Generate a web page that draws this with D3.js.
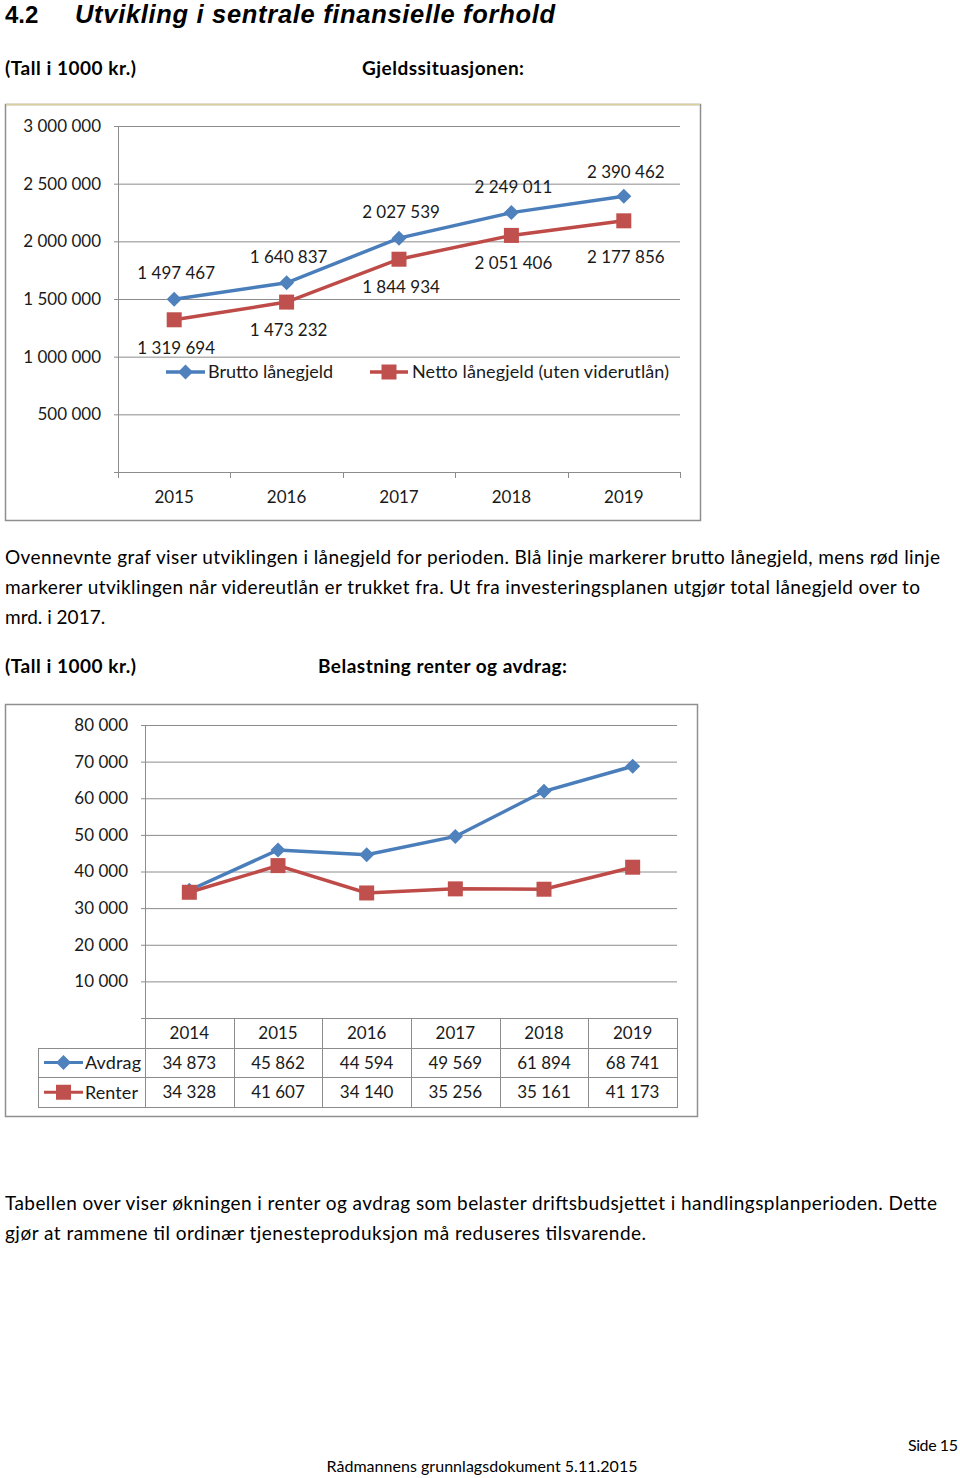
<!DOCTYPE html>
<html><head><meta charset="utf-8">
<script src="https://cdn.jsdelivr.net/npm/d3@7"></script>
<style>
html,body{margin:0;padding:0;background:#fff;}
svg text{font-family:Lato,"Open Sans",sans-serif;}
</style></head>
<body><svg id="page" width="960" height="1478"></svg>
<script>
// ---------- DATA ----------
const years1 = ["2015","2016","2017","2018","2019"];
const brutto = [1497467,1640837,2027539,2249011,2390462];
const netto  = [1319694,1473232,1844934,2051406,2177856];
const yTicks1 = [500000,1000000,1500000,2000000,2500000,3000000];
const series1Names = ["Brutto lånegjeld","Netto lånegjeld (uten viderutlån)"];

const years2 = ["2014","2015","2016","2017","2018","2019"];
const avdrag = [34873,45862,44594,49569,61894,68741];
const renter = [34328,41607,34140,35256,35161,41173];
const yTicks2 = [10000,20000,30000,40000,50000,60000,70000,80000];
const series2Names = ["Avdrag","Renter"];

const para1 = ["Ovennevnte graf viser utviklingen i lånegjeld for perioden. Blå linje markerer brutto lånegjeld, mens rød linje",
  "markerer utviklingen når videreutlån er trukket fra. Ut fra investeringsplanen utgjør total lånegjeld over to",
  "mrd. i 2017."];
const para2 = ["Tabellen over viser økningen i renter og avdrag som belaster driftsbudsjettet i handlingsplanperioden. Dette",
  "gjør at rammene til ordinær tjenesteproduksjon må reduseres tilsvarende."];

// ---------- STYLE ----------
const BLUE_L="#4a7ebb", BLUE_M="#4f81bd", RED_L="#be4b48", RED_M="#c0504d";
const GRID="#8c8c8c", TXT="#1a1a1a";
const fmt = v => d3.format(",")(v).replace(/,/g," ");

const svg = d3.select("#page");

function txt(x,y,s,opt={}){
  const t = svg.append("text").attr("x",x).attr("y",y).text(s)
    .attr("font-size",opt.size||19).attr("fill",opt.fill||"#000");
  if(opt.weight) t.attr("font-weight",opt.weight);
  if(opt.style) t.attr("font-style",opt.style);
  if(opt.family) t.style("font-family",opt.family);
  if(opt.anchor) t.attr("text-anchor",opt.anchor);
  if(opt.len) t.attr("textLength",opt.len).attr("lengthAdjust","spacing");
  return t;
}

// Headings
txt(5,23,"4.2",{size:24,weight:"bold",family:"'Liberation Sans',Arial,sans-serif"});
txt(75,23,"Utvikling i sentrale finansielle forhold",{size:25.5,weight:"bold",style:"italic",family:"'Liberation Sans',Arial,sans-serif",len:480});
txt(5,75,"(Tall i 1000 kr.)",{size:19,weight:"bold",len:131});
txt(362,75,"Gjeldssituasjonen:",{size:19,weight:"bold",len:162});

// ---------- CHART 1 ----------
svg.append("rect").attr("x",5.5).attr("y",104.5).attr("width",695).attr("height",416)
  .attr("fill","#fff").attr("stroke","#8f8f8f").attr("stroke-width",1.5);
svg.append("line").attr("x1",6).attr("x2",700).attr("y1",104.5).attr("y2",104.5).attr("stroke","#d9cf9c").attr("stroke-width",1.5);

const x1 = d3.scaleBand().domain(years1).range([118,680]);
const y1 = d3.scaleLinear().domain([0,3000000]).range([472,126]);

const g1 = svg.append("g");
g1.append("g").attr("transform","translate(118,0)")
  .call(d3.axisLeft(y1).tickValues(yTicks1).tickSize(-562).tickFormat(""))
  .call(g=>g.select(".domain").remove())
  .call(g=>g.selectAll("line").attr("stroke",GRID).attr("stroke-width",1).attr("x1",-4));
g1.append("line").attr("x1",118.5).attr("x2",118.5).attr("y1",126).attr("y2",472).attr("stroke",GRID);
g1.append("line").attr("x1",114).attr("x2",680).attr("y1",472.5).attr("y2",472.5).attr("stroke",GRID);
g1.selectAll(".xt").data(years1.concat(["end"])).join("line")
  .attr("x1",(d,i)=>Math.round(i<years1.length?x1(d):x1.range()[1])+0.5)
  .attr("x2",(d,i)=>Math.round(i<years1.length?x1(d):x1.range()[1])+0.5)
  .attr("y1",472).attr("y2",478).attr("stroke",GRID);
g1.selectAll(".yl").data(yTicks1).join("text")
  .attr("x",101).attr("y",d=>y1(d)).attr("dy","0.35em").attr("text-anchor","end")
  .attr("font-size",17).attr("fill",TXT).text(fmt);
g1.selectAll(".xl").data(years1).join("text")
  .attr("x",d=>x1(d)+x1.bandwidth()/2).attr("y",497).attr("dy","0.35em").attr("text-anchor","middle")
  .attr("font-size",17).attr("fill",TXT).text(d=>d);

const cx1 = d => x1(d)+x1.bandwidth()/2;
const line1 = d3.line().x(d=>cx1(d.k)).y(d=>y1(d.v));
const bd = years1.map((k,i)=>({k,v:brutto[i]}));
const nd = years1.map((k,i)=>({k,v:netto[i]}));
g1.append("path").datum(nd).attr("d",line1).attr("fill","none").attr("stroke",RED_L).attr("stroke-width",3.5);
g1.append("path").datum(bd).attr("d",line1).attr("fill","none").attr("stroke",BLUE_L).attr("stroke-width",3.5);
function drawDiamond(g,x,y){
  g.append("path").attr("d",`M${x},${y-7.5}L${x+7.5},${y}L${x},${y+7.5}L${x-7.5},${y}Z`).attr("fill",BLUE_M);
}
function drawSquare(g,x,y){
  g.append("rect").attr("x",x-7.5).attr("y",y-7.5).attr("width",15).attr("height",15).attr("fill",RED_M);
}
nd.forEach(d=>drawSquare(g1,cx1(d.k),y1(d.v)));
bd.forEach(d=>drawDiamond(g1,cx1(d.k),y1(d.v)));
g1.selectAll(".bl").data(bd).join("text")
  .attr("x",d=>cx1(d.k)+2).attr("y",(d,i)=>y1(d.v)-(i===bd.length-1?24:26)).attr("dy","0.35em").attr("text-anchor","middle")
  .attr("font-size",17).attr("fill",TXT).text(d=>fmt(d.v));
g1.selectAll(".nl").data(nd).join("text")
  .attr("x",d=>cx1(d.k)+2).attr("y",(d,i)=>y1(d.v)+(i===nd.length-1?36:28)).attr("dy","0.35em").attr("text-anchor","middle")
  .attr("font-size",17).attr("fill",TXT).text(d=>fmt(d.v));
// legend
g1.append("line").attr("x1",166).attr("x2",205).attr("y1",372).attr("y2",372).attr("stroke",BLUE_L).attr("stroke-width",3.5);
drawDiamond(g1,185.5,372);
txt(208,372,series1Names[0],{size:18,fill:TXT,len:125}).attr("dy","0.35em");
g1.append("line").attr("x1",370).attr("x2",408).attr("y1",372).attr("y2",372).attr("stroke",RED_L).attr("stroke-width",3.5);
drawSquare(g1,389,372);
txt(412,372,series1Names[1],{size:18,fill:TXT,len:257}).attr("dy","0.35em");

// paragraph 1
para1.forEach((s,i)=>{
  const lens=[935,915,null];
  txt(5,564+i*30,s,{size:19,len:lens[i]||undefined});
});

txt(5,673,"(Tall i 1000 kr.)",{size:19,weight:"bold",len:131});
txt(318,673,"Belastning renter og avdrag:",{size:19,weight:"bold",len:249});

// ---------- CHART 2 ----------
svg.append("rect").attr("x",5.5).attr("y",704.5).attr("width",692).attr("height",412)
  .attr("fill","#fff").attr("stroke","#8f8f8f").attr("stroke-width",1.5);

const x2 = d3.scaleBand().domain(years2).range([145,677]);
const y2 = d3.scaleLinear().domain([0,80000]).range([1018,725]);
const g2 = svg.append("g");
g2.append("g").attr("transform","translate(145,0)")
  .call(d3.axisLeft(y2).tickValues(yTicks2).tickSize(-532).tickFormat(""))
  .call(g=>g.select(".domain").remove())
  .call(g=>g.selectAll("line").attr("stroke",GRID).attr("stroke-width",1).attr("x1",-4));
g2.append("line").attr("x1",145.5).attr("x2",145.5).attr("y1",725).attr("y2",1107).attr("stroke",GRID);
g2.selectAll(".yl").data(yTicks2).join("text")
  .attr("x",128).attr("y",d=>y2(d)).attr("dy","0.35em").attr("text-anchor","end")
  .attr("font-size",17).attr("fill",TXT).text(fmt);

// table
const rowH = 29.7;
const tTop = 1018;
g2.append("line").attr("x1",141).attr("x2",677).attr("y1",tTop+0.5).attr("y2",tTop+0.5).attr("stroke",GRID);
[1,2,3].forEach(r=>{
  g2.append("line").attr("x1",38).attr("x2",677).attr("y1",Math.round(tTop+r*rowH)+0.5).attr("y2",Math.round(tTop+r*rowH)+0.5).attr("stroke",GRID);
});
g2.append("line").attr("x1",38.5).attr("x2",38.5).attr("y1",Math.round(tTop+rowH)).attr("y2",Math.round(tTop+3*rowH)+1).attr("stroke",GRID);
g2.selectAll(".vc").data(years2.slice(1).concat(["end"])).join("line")
  .attr("x1",(d,i)=>Math.round(i<years2.length-1?x2(d):x2.range()[1])+0.5)
  .attr("x2",(d,i)=>Math.round(i<years2.length-1?x2(d):x2.range()[1])+0.5)
  .attr("y1",tTop).attr("y2",Math.round(tTop+3*rowH)+1).attr("stroke",GRID);
const cx2 = d => x2(d)+x2.bandwidth()/2;
g2.selectAll(".hd").data(years2).join("text")
  .attr("x",cx2).attr("y",tTop+rowH/2).attr("dy","0.35em").attr("text-anchor","middle")
  .attr("font-size",17).attr("fill",TXT).text(d=>d);
g2.selectAll(".av").data(avdrag).join("text")
  .attr("x",(d,i)=>cx2(years2[i])).attr("y",tTop+rowH*1.5).attr("dy","0.35em").attr("text-anchor","middle")
  .attr("font-size",17).attr("fill",TXT).text(fmt);
g2.selectAll(".rt").data(renter).join("text")
  .attr("x",(d,i)=>cx2(years2[i])).attr("y",tTop+rowH*2.5).attr("dy","0.35em").attr("text-anchor","middle")
  .attr("font-size",17).attr("fill",TXT).text(fmt);
const ly1 = tTop+rowH*1.5, ly2 = tTop+rowH*2.5;
g2.append("line").attr("x1",44).attr("x2",83).attr("y1",ly1).attr("y2",ly1).attr("stroke",BLUE_L).attr("stroke-width",3);
drawDiamond(g2,63.5,ly1);
txt(85,ly1,series2Names[0],{size:18,fill:TXT,len:56}).attr("dy","0.35em");
g2.append("line").attr("x1",44).attr("x2",83).attr("y1",ly2).attr("y2",ly2).attr("stroke",RED_L).attr("stroke-width",3);
drawSquare(g2,63.5,ly2);
txt(85,ly2,series2Names[1],{size:18,fill:TXT,len:53}).attr("dy","0.35em");

const line2 = d3.line().x(d=>cx2(d.k)).y(d=>y2(d.v));
const ad = years2.map((k,i)=>({k,v:avdrag[i]}));
const rd = years2.map((k,i)=>({k,v:renter[i]}));
g2.append("path").datum(ad).attr("d",line2).attr("fill","none").attr("stroke",BLUE_L).attr("stroke-width",3.5);
g2.append("path").datum(rd).attr("d",line2).attr("fill","none").attr("stroke",RED_L).attr("stroke-width",3.5);
ad.forEach(d=>drawDiamond(g2,cx2(d.k),y2(d.v)));
rd.forEach(d=>drawSquare(g2,cx2(d.k),y2(d.v)));

// paragraph 2
para2.forEach((s,i)=>{
  const lens=[932,641];
  txt(5,1210+i*30,s,{size:19,len:lens[i]});
});

// footer
txt(958,1451,"Side 15",{size:16,anchor:"end",len:50});
txt(482,1472,"Rådmannens grunnlagsdokument 5.11.2015",{size:16,anchor:"middle",len:311});
</script></body></html>
